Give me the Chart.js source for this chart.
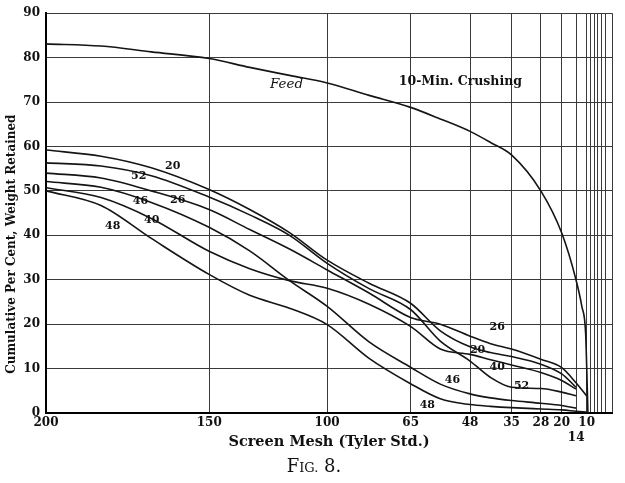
<!DOCTYPE html>
<html>
<head>
<meta charset="utf-8">
<script src="https://cdn.jsdelivr.net/npm/chart.js@4.4.1/dist/chart.umd.min.js"></script>
<style>
  html, body { margin: 0; padding: 0; background: #fff; }
  #wrap { width: 625px; height: 483px; }
</style>
</head>
<body>
<div id="wrap"><canvas id="chart" width="625" height="483"></canvas></div>
<script>
// Tyler standard screens, aperture in mm
const meshLabels = ["200", "150", "100", "65", "48", "35", "28", "20", "14", "10"];
const meshAperture = [0.074, 0.104, 0.147, 0.208, 0.295, 0.417, 0.589, 0.833, 1.168, 1.651];
const coarseAperture = [1.981, 2.362, 2.794, 3.962, 6.680];

const sampleX = [13.51, 12.2, 11.0, 9.62, 8.65, 7.7, 6.8, 5.8, 4.81, 4.1, 3.39, 2.9, 2.40, 1.70, 1.20, 0.86, 0.61];
const feedX = [13.51, 12.2, 11.0, 9.62, 8.65, 7.7, 6.8, 5.8, 4.81, 4.1, 3.39, 2.9, 2.40, 1.70, 1.20, 0.86, 0.72, 0.63, 0.60, 0.575];

// cumulative per cent retained
const feed = [83.1, 82.6, 81.3, 79.8, 77.8, 76.0, 74.3, 71.5, 68.8, 66.2, 63.4, 60.9, 58.1, 50.0, 40.5, 30.0, 24.0, 18.0, 9.0, 0];
const min20 = [59.2, 57.8, 55.2, 50.3, 45.8, 40.6, 34.4, 29.2, 24.7, 18.5, 14.9, 13.6, 12.7, 11.0, 8.8, 5.8, null];
const min52 = [56.3, 55.6, 53.4, 48.6, 44.6, 40.0, 33.7, 28.0, 23.3, 16.2, 11.7, 8.0, 5.8, 5.5, 4.7, 3.9, null];
const min26 = [54.0, 52.9, 50.0, 45.8, 41.3, 36.9, 32.2, 27.0, 21.5, 20.0, 17.3, 15.6, 14.4, 12.1, 10.2, 6.8, 3.9];
const min46 = [52.1, 50.8, 47.4, 41.8, 36.5, 29.8, 24.0, 16.0, 10.3, 6.5, 4.3, 3.4, 2.8, 2.2, 1.7, 1.1, null];
const min40 = [50.7, 48.5, 43.8, 36.4, 32.5, 29.8, 28.1, 24.5, 19.5, 14.4, 13.2, 12.0, 10.8, 9.1, 7.3, 5.4, null];
const min48 = [50.0, 46.7, 39.3, 31.2, 26.5, 23.6, 19.9, 12.3, 6.6, 3.2, 1.9, 1.5, 1.2, 0.9, 0.7, 0.4, 0.2];

// text written along the curves
const noteText = ["Feed", "10-Min. Crushing", "20", "52", "26", "46", "40", "48", "26", "20", "40", "52", "46", "48"];
const noteX = [7.77, 3.62, 10.49, 11.30, 10.37, 11.26, 10.99, 11.92, 2.74, 3.21, 2.74, 2.16, 3.81, 4.41];
const noteY = [73.9, 74.6, 55.6, 53.4, 47.9, 47.6, 43.4, 42.1, 19.3, 14.2, 10.4, 6.0, 7.5, 1.7];

const gridX = meshAperture.map(a => 1 / a).concat(coarseAperture.map(a => 1 / a), [0]);
const gridLabels = meshLabels.concat(coarseAperture.map(() => ""), [""]);

function toPoints(xs, ys) {
  return xs.map((x, i) => ({ x: x, y: ys[i] })).filter(p => p.y !== null);
}

const series = [
  [feedX, feed], [sampleX, min20], [sampleX, min52], [sampleX, min26],
  [sampleX, min46], [sampleX, min40], [sampleX, min48]
];

const SERIF = "'DejaVu Serif', serif";

const notes = {
  id: "notes",
  afterDraw(chart) {
    const ctx = chart.ctx;
    const xs = chart.scales.x, ys = chart.scales.y;
    ctx.save();
    ctx.fillStyle = "#111";
    ctx.textAlign = "center";
    ctx.textBaseline = "middle";
    noteText.forEach((t, i) => {
      if (i === 0) ctx.font = "italic 13.5px " + SERIF;
      else if (i === 1) ctx.font = "bold 12.5px " + SERIF;
      else ctx.font = "bold 11px " + SERIF;
      ctx.fillText(t, xs.getPixelForValue(noteX[i]), ys.getPixelForValue(noteY[i]));
    });

    // y axis title
    ctx.save();
    ctx.translate(12, ys.getPixelForValue(38));
    ctx.rotate(-Math.PI / 2);
    ctx.font = "bold 12px " + SERIF;
    ctx.fillText("Cumulative Per Cent, Weight Retained", 0, 0);
    ctx.restore();

    // figure caption, small caps by hand
    const big = "18px " + SERIF, small = "13px " + SERIF;
    const parts = [["F", big], ["IG.", small], [" 8.", big]];
    let w = 0;
    parts.forEach(p => { ctx.font = p[1]; w += ctx.measureText(p[0]).width; });
    let x = 314 - w / 2;
    ctx.textAlign = "left";
    ctx.textBaseline = "alphabetic";
    parts.forEach(p => {
      ctx.font = p[1];
      ctx.fillText(p[0], x, 472);
      x += ctx.measureText(p[0]).width;
    });
    ctx.restore();
  }
};

new Chart(document.getElementById("chart"), {
  type: "line",
  data: {
    datasets: series.map(s => ({
      data: toPoints(s[0], s[1]),
      borderColor: "#151515",
      borderWidth: 1.6,
      pointRadius: 0,
      fill: false,
      cubicInterpolationMode: "monotone"
    }))
  },
  options: {
    responsive: false,
    animation: false,
    layout: { padding: { left: 0, right: 13, top: 9, bottom: 32 } },
    plugins: { legend: { display: false }, tooltip: { enabled: false } },
    scales: {
      x: {
        type: "linear",
        reverse: true,
        min: 0,
        max: 1 / 0.074,
        afterBuildTicks: scale => { scale.ticks = gridX.map(v => ({ value: v })); },
        afterFit: scale => { scale.height = 38; },
        ticks: {
          autoSkip: false,
          maxRotation: 0,
          padding: 3,
          color: "#111",
          font: { family: SERIF, size: 12, weight: "bold" },
          callback: (v, i) => gridLabels[i] === "14" ? ["", "14"] : gridLabels[i]
        },
        grid: { color: "#3a3a3a", lineWidth: 1, drawTicks: false },
        border: { display: true, color: "#000", width: 2 },
        title: {
          display: true,
          text: "Screen Mesh (Tyler Std.)",
          color: "#111",
          font: { family: SERIF, size: 14.5, weight: "bold" },
          padding: { top: 0, bottom: 0 }
        }
      },
      y: {
        min: 0,
        max: 90,
        afterFit: scale => { scale.width = 46; },
        ticks: {
          stepSize: 10,
          padding: 6,
          color: "#111",
          font: { family: SERIF, size: 12, weight: "bold" }
        },
        grid: { color: "#3a3a3a", lineWidth: 1, drawTicks: false },
        border: { display: true, color: "#000", width: 2 }
      }
    }
  },
  plugins: [notes]
});
</script>
</body>
</html>
